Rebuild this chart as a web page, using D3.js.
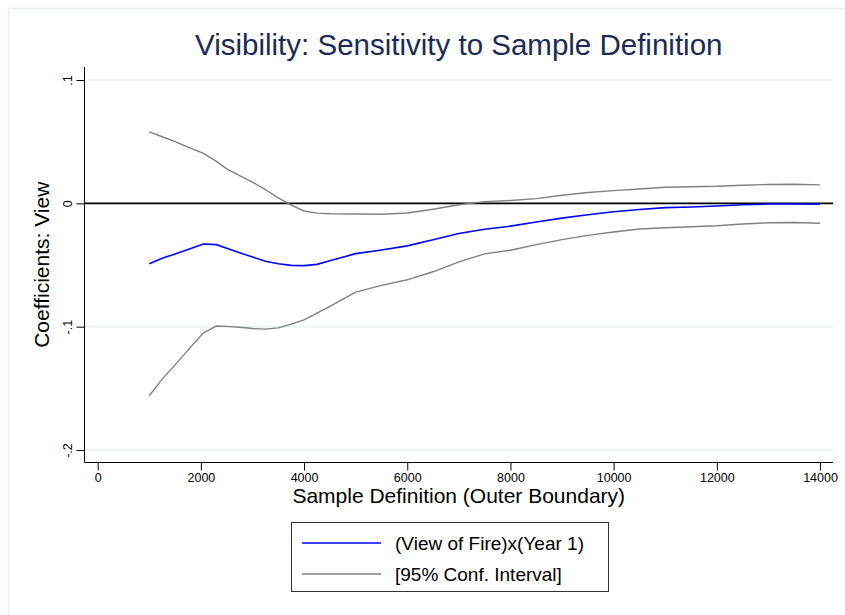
<!DOCTYPE html>
<html>
<head>
<meta charset="utf-8">
<script src="https://cdn.jsdelivr.net/npm/d3@7"></script>
<style>
  body { margin: 0; background: #fff; }
  text { font-family: "Liberation Sans", Arial, sans-serif; }
</style>
</head>
<body>
<div id="chart-area"></div>
<script>
// sample boundary (outer) values
const boundary = [1000, 1250, 1500, 1750, 2050, 2300, 2500, 2750, 3000, 3250, 3500, 3750, 4000,
  4250, 4500, 5000, 5500, 6000, 6500, 7000, 7500, 8000, 8500, 9000, 9500, 10000,
  10500, 11000, 11500, 12000, 12500, 13000, 13500, 14000]

// (View of Fire)x(Year 1) coefficient
const coef = [-0.049, -0.0445, -0.041, -0.0375, -0.033, -0.0335, -0.0365, -0.040, -0.0435, -0.047,
  -0.049, -0.0503, -0.0505, -0.0495, -0.0465, -0.0408, -0.0378, -0.0345, -0.0295, -0.0245,
  -0.021, -0.0185, -0.0152, -0.012, -0.0092, -0.0068, -0.005, -0.0035, -0.003, -0.0022,
  -0.0012, -0.0006, -0.0006, -0.0008]

// 95% conf. interval, upper and lower
const ciUpper = [0.058, 0.054, 0.050, 0.0455, 0.0405, 0.034, 0.028, 0.0225, 0.0172, 0.0112,
  0.0045, -0.0015, -0.0062, -0.0079, -0.0084, -0.0087, -0.0088, -0.0078, -0.0048, -0.0012,
  0.0014, 0.0023, 0.0038, 0.0065, 0.0088, 0.0103, 0.0116, 0.013, 0.0135, 0.0138,
  0.0147, 0.0153, 0.0155, 0.0150]

const ciLower = [-0.156, -0.1425, -0.131, -0.119, -0.105, -0.0995, -0.0998, -0.1005, -0.1015, -0.102,
  -0.101, -0.098, -0.0945, -0.089, -0.0835, -0.072, -0.0665, -0.062, -0.0555, -0.0475,
  -0.041, -0.038, -0.0335, -0.0294, -0.026, -0.0232, -0.0208, -0.0198, -0.019, -0.0182,
  -0.0167, -0.0158, -0.0156, -0.0162]

const xTicks = [0, 2000, 4000, 6000, 8000, 10000, 12000, 14000]
const yTicks = [-0.2, -0.1, 0, 0.1]
const yTickLabels = ["-.2", "-.1", "0", ".1"]
const legendLabels = ["(View of Fire)x(Year 1)", "[95% Conf. Interval]"]

const W = 845, H = 615
const PLOT = {LEFT: 84.5, RIGHT: 833, TOP: 67, BOTTOM: 462.5}

const svg = d3.select("#chart-area").append("svg")
  .attr("width", W)
  .attr("height", H)

// faint outer frame
svg.append("rect")
  .attr("x", 8.5).attr("y", 8.5)
  .attr("width", 900).attr("height", 700)
  .attr("fill", "none")
  .attr("stroke", "#e6eeef")
  .attr("stroke-width", 1.5)

// Scales
const x = d3.scaleLinear()
  .domain([0, 14000])
  .range([97.7, 820])

const y = d3.scaleLinear()
  .domain([-0.2, 0.1])
  .range([450, 80])

// gridlines
svg.append("g")
  .selectAll("line")
  .data(yTicks.filter(d => d !== 0))
  .enter().append("line")
    .attr("x1", PLOT.LEFT).attr("x2", PLOT.RIGHT)
    .attr("y1", d => y(d)).attr("y2", d => y(d))
    .attr("stroke", "#eaf2f3")
    .attr("stroke-width", 1.5)

// Y Axis
const yAxisCall = d3.axisLeft(y)
  .tickValues(yTicks)
  .tickSize(8)
  .tickFormat((d, i) => yTickLabels[i])
const yAxis = svg.append("g")
  .attr("transform", `translate(${PLOT.LEFT}, 0)`)
  .call(yAxisCall)
yAxis.select(".domain").remove()
yAxis.append("line")
  .attr("y1", PLOT.TOP).attr("y2", PLOT.BOTTOM)
  .attr("stroke", "#000")
yAxis.selectAll(".tick line").attr("stroke", "#000")
yAxis.selectAll(".tick text")
  .attr("font-size", "12.5px")
  .attr("fill", "#000")
  .attr("text-anchor", "middle")
  .attr("x", 0)
  .attr("y", -13)
  .attr("dy", null)
  .attr("transform", "rotate(-90)")

// X Axis
const xAxisCall = d3.axisBottom(x)
  .tickValues(xTicks)
  .tickSize(8)
  .tickFormat(d3.format("d"))
const xAxis = svg.append("g")
  .attr("transform", `translate(0, ${PLOT.BOTTOM})`)
  .call(xAxisCall)
xAxis.select(".domain").remove()
xAxis.append("line")
  .attr("x1", PLOT.LEFT).attr("x2", PLOT.RIGHT)
  .attr("stroke", "#000")
xAxis.selectAll(".tick line").attr("stroke", "#000")
xAxis.selectAll(".tick text")
  .attr("font-size", "12.5px")
  .attr("fill", "#000")
  .attr("y", 11)

// zero reference line
svg.append("line")
  .attr("x1", PLOT.LEFT).attr("x2", PLOT.RIGHT)
  .attr("y1", y(0)).attr("y2", y(0))
  .attr("stroke", "#000")
  .attr("stroke-width", 1.6)

// Lines
const line = d3.line()
  .x(d => x(d[0]))
  .y(d => y(d[1]))

const series = [
  {values: ciUpper, color: "#808080", width: 1.4},
  {values: ciLower, color: "#808080", width: 1.4},
  {values: coef, color: "#0000ff", width: 1.6}
]

series.forEach(s => {
  svg.append("path")
    .datum(boundary.map((b, i) => [b, s.values[i]]))
    .attr("fill", "none")
    .attr("stroke", s.color)
    .attr("stroke-width", s.width)
    .attr("d", line)
})

// Labels
svg.append("text")
  .attr("x", (PLOT.LEFT + PLOT.RIGHT) / 2)
  .attr("y", 55)
  .attr("text-anchor", "middle")
  .attr("font-size", "29.5px")
  .attr("fill", "#1c2b55")
  .text("Visibility: Sensitivity to Sample Definition")

svg.append("text")
  .attr("x", (PLOT.LEFT + PLOT.RIGHT) / 2)
  .attr("y", 503)
  .attr("text-anchor", "middle")
  .attr("font-size", "21px")
  .attr("fill", "#000")
  .text("Sample Definition (Outer Boundary)")

svg.append("text")
  .attr("transform", `translate(49, ${(PLOT.TOP + PLOT.BOTTOM) / 2}) rotate(-90)`)
  .attr("text-anchor", "middle")
  .attr("font-size", "21px")
  .attr("fill", "#000")
  .text("Coefficients: View")

// Legend
const legend = svg.append("g")
legend.append("rect")
  .attr("x", 291.5).attr("y", 522.5)
  .attr("width", 317).attr("height", 69)
  .attr("fill", "#fff")
  .attr("stroke", "#333")
  .attr("stroke-width", 1)

const legendColors = ["#0000ff", "#808080"]
legendLabels.forEach((label, i) => {
  const row = legend.append("g")
    .attr("transform", `translate(0, ${543 + i * 31})`)
  row.append("line")
    .attr("x1", 302).attr("x2", 381)
    .attr("stroke", legendColors[i])
    .attr("stroke-width", 1.6)
  row.append("text")
    .attr("x", 395)
    .attr("y", 7)
    .attr("font-size", "19px")
    .attr("fill", "#000")
    .text(label)
})
</script>
</body>
</html>
